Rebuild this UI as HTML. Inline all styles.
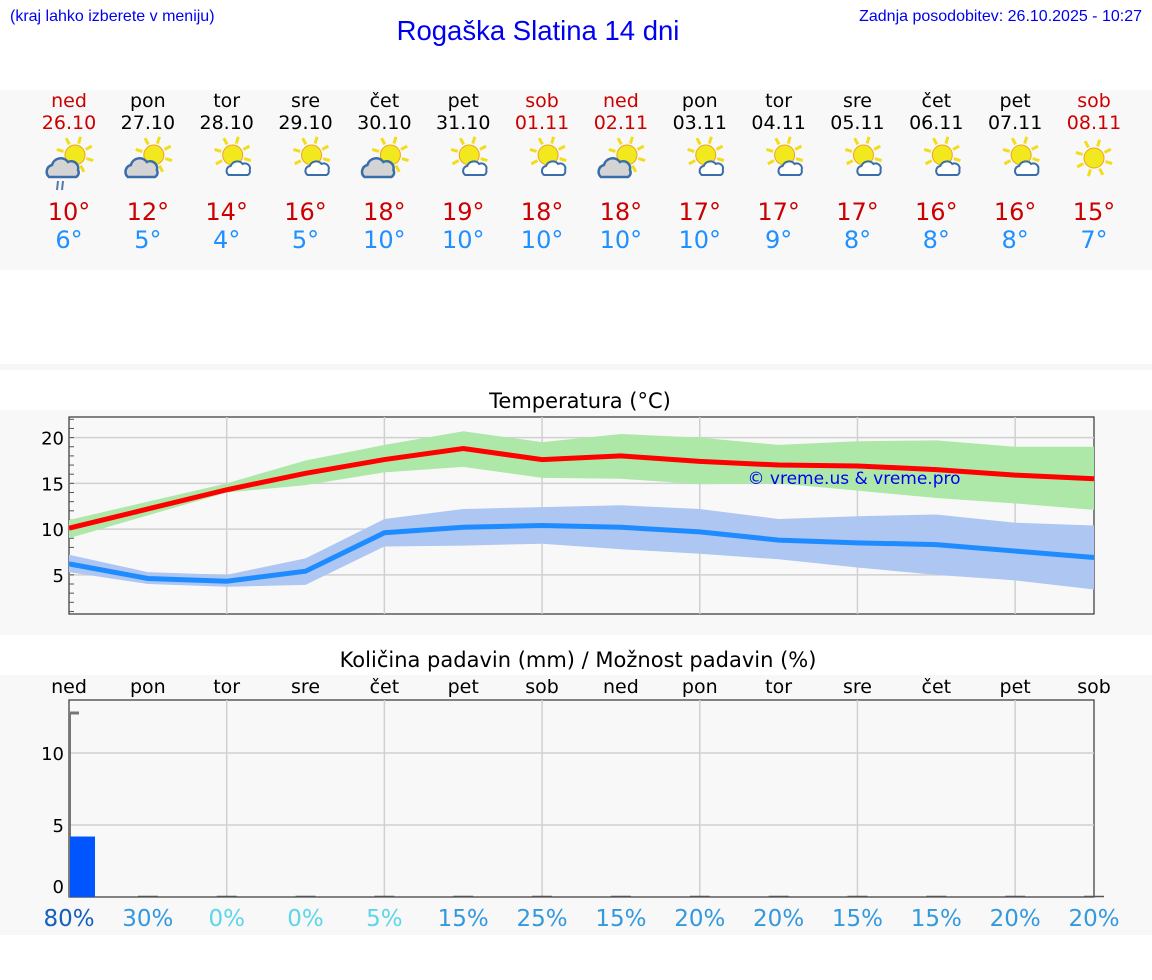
<!DOCTYPE html>
<html><head><meta charset="utf-8"><style>
body{margin:0;background:#fff;width:1152px;height:975px;overflow:hidden}
svg text{font-family:"DejaVu Sans",sans-serif}
</style></head><body>
<svg id="s" width="1152" height="975" xmlns="http://www.w3.org/2000/svg">
<rect x="0" y="90" width="1152" height="180" fill="#f8f8f8"/>
<rect x="0" y="364" width="1152" height="6" fill="#f6f6f6"/>
<rect x="0" y="410" width="1152" height="225" fill="#f8f8f8"/>
<rect x="0" y="675" width="1152" height="260" fill="#f8f8f8"/>
<text x="10" y="21" font-size="16" fill="#0000ee" style="font-family:'Liberation Sans',sans-serif">(kraj lahko izberete v meniju)</text>
<text x="538" y="40" font-size="27.5" fill="#0000ee" text-anchor="middle" style="font-family:'Liberation Sans',sans-serif">Rogaška Slatina 14 dni</text>
<text x="1142" y="21" font-size="16" fill="#0000ee" text-anchor="end" style="font-family:'Liberation Sans',sans-serif">Zadnja posodobitev: 26.10.2025 - 10:27</text>
<text x="580" y="408" font-size="21" text-anchor="middle">Temperatura (°C)</text>
<text x="578" y="667" font-size="21" text-anchor="middle">Količina padavin (mm) / Možnost padavin (%)</text>
<g id="g"></g>
</svg>
<script>
const days=["ned","pon","tor","sre","čet","pet","sob","ned","pon","tor","sre","čet","pet","sob"];
const dates=["26.10","27.10","28.10","29.10","30.10","31.10","01.11","02.11","03.11","04.11","05.11","06.11","07.11","08.11"];
const weekend=[1,0,0,0,0,0,1,1,0,0,0,0,0,1];
const icons=["rain","cloud","partly","partly","cloud","partly","partly","cloud","partly","partly","partly","partly","partly","sun"];
const hiLabels=[10,12,14,16,18,19,18,18,17,17,17,16,16,15];
const loLabels=[6,5,4,5,10,10,10,10,10,9,8,8,8,7];
const tMax=[10.1,12.2,14.3,16.1,17.6,18.8,17.6,18.0,17.4,17.0,16.9,16.5,15.9,15.5];
const tMaxHi=[11.0,13.0,15.0,17.5,19.2,20.7,19.5,20.4,20.0,19.2,19.6,19.7,19.0,19.0];
const tMaxLo=[9.0,11.5,14.0,14.8,16.2,16.8,15.6,15.5,14.9,15.0,14.2,13.4,12.8,12.1];
const tMin=[6.2,4.6,4.3,5.4,9.6,10.2,10.4,10.2,9.7,8.8,8.5,8.3,7.6,6.9];
const tMinHi=[7.2,5.3,5.0,6.8,11.1,12.2,12.4,12.6,12.2,11.1,11.4,11.6,10.7,10.4];
const tMinLo=[5.3,4.0,3.7,3.9,8.1,8.2,8.4,7.8,7.3,6.7,5.8,5.0,4.4,3.4];
const precip=[4.2,0,0,0,0,0,0,0,0,0,0,0,0,0];
const chance=[80,30,0,0,5,15,25,15,20,20,15,15,20,20];
const tempTicks=[5,10,15,20];
const precipTicks=[0,5,10];

const NS="http://www.w3.org/2000/svg";const g=document.getElementById('g');
function el(t,a,p){const e=document.createElementNS(NS,t);for(const k in a)e.setAttribute(k,a[k]);(p||g).appendChild(e);return e;}
const X0=69,X1=1094;
const xd=i=>X0+i*(X1-X0)/13;
const yT=v=>620.6-v*9.15;
const yP=v=>897-v*14.4;

days.forEach((d,i)=>{
  const c=weekend[i]?"#cc0000":"#000";
  let t=el('text',{x:xd(i),y:107,'font-size':19,'text-anchor':'middle',fill:c});t.textContent=d;
  
  
  t=el('text',{x:xd(i),y:129,'font-size':19,'text-anchor':'middle',fill:c});t.textContent=dates[i];
  
  
  t=el('text',{x:xd(i),y:220,'font-size':24,'text-anchor':'middle',fill:"#cc0000"});t.textContent=hiLabels[i]+"°";
  
  
  t=el('text',{x:xd(i),y:248,'font-size':24,'text-anchor':'middle',fill:"#1e90ff"});t.textContent=loLabels[i]+"°";
  
  
  const ic=el('g',{transform:`translate(${xd(i)},158)`});
  
  
  const k=icons[i];
  let sx=k=="sun"?0:6, sy=k=="sun"?0:-3;
  for(let a=0;a<8;a++){const an=a*Math.PI/4+0.3;el('line',{x1:sx+Math.cos(an)*12,y1:sy+Math.sin(an)*12,x2:sx+Math.cos(an)*19,y2:sy+Math.sin(an)*19,stroke:"#f2dd1a",'stroke-width':3},ic);}
  el('circle',{cx:sx,cy:sy,r:10,fill:"#f2e81e",stroke:"#f0a020",'stroke-width':1},ic);
  if(k=="cloud"||k=="rain"){
    el('path',{d:"M-20 19 a7 7 0 0 1 3-12 a9 9 0 0 1 16-3 a7 7 0 0 1 10 8 a5 5 0 0 1-2 7 z",fill:"#d4d4d4",stroke:"#3a6ea8",'stroke-width':2.5},ic);
    if(k=="rain"){el('line',{x1:-11,y1:23,x2:-12,y2:32,stroke:"#5577aa",'stroke-width':2},ic);el('line',{x1:-6,y1:23,x2:-7,y2:32,stroke:"#5577aa",'stroke-width':2},ic);}
  } else if(k=="partly"){
    el('path',{d:"M2 17 a5 5 0 0 1 2-9 a7 7 0 0 1 12-2 a5 5 0 0 1 7 6 a4 4 0 0 1-2 5 z",fill:"#fff",stroke:"#3a6ea8",'stroke-width':2},ic);
  }
});

el('rect',{x:X0,y:417,width:X1-X0,height:197,fill:"#f8f8f8",stroke:"#333",'stroke-width':1.2});
tempTicks.forEach(v=>{
  el('line',{x1:X0,x2:X1,y1:yT(v),y2:yT(v),stroke:"#d0d0d0",'stroke-width':1.5});
  const t=el('text',{x:64,y:yT(v)+7,'font-size':18,'text-anchor':'end'});t.textContent=v;
  
  
});
for(let v=1;v<=22;v++)el('line',{x1:X0,x2:X0+5,y1:yT(v),y2:yT(v),stroke:"#555",'stroke-width':1});
for(let i=2;i<13;i+=2)el('line',{x1:xd(i),x2:xd(i),y1:417,y2:614,stroke:"#d0d0d0",'stroke-width':1.5});
function band(hi,lo,fill,name){
  let d="M"+hi.map((v,i)=>xd(i)+" "+yT(v)).join(" L");
  d+=" L"+lo.map((v,i)=>xd(i)+" "+yT(v)).reverse().join(" L")+" Z";
  const p=el('path',{d,fill});
  
  
}
function line(a,col,name){
  const p=el('polyline',{points:a.map((v,i)=>xd(i)+","+yT(v)).join(" "),fill:"none",stroke:col,'stroke-width':5});
  
  
}
band(tMaxHi,tMaxLo,"#aee8a8","max-temp-range");
band(tMinHi,tMinLo,"#aec6f2","min-temp-range");
line(tMax,"#ff0000","max-temp-line");
line(tMin,"#1e8cff","min-temp-line");
let wm=el('text',{x:854,y:484,'font-size':17,'text-anchor':'middle',fill:"#0000ee"});wm.textContent="© vreme.us & vreme.pro";



days.forEach((d,i)=>{const t=el('text',{x:xd(i),y:693,'font-size':19,'text-anchor':'middle'});t.textContent=d;
  
  });
el('rect',{x:X0,y:700,width:X1-X0,height:197,fill:"#f8f8f8",stroke:"#333",'stroke-width':1.2});
precipTicks.forEach(v=>{
  if(v>0)el('line',{x1:X0,x2:X1,y1:yP(v),y2:yP(v),stroke:"#d0d0d0",'stroke-width':1.5});
  const t=el('text',{x:64,y:v==0?yP(v)-4:yP(v)+7,'font-size':18,'text-anchor':'end'});t.textContent=v;
  
  
});
for(let i=2;i<13;i+=2)el('line',{x1:xd(i),x2:xd(i),y1:700,y2:897,stroke:"#d0d0d0",'stroke-width':1.5});
el('line',{x1:70,x2:70,y1:713,y2:897,stroke:"#777",'stroke-width':2});
el('line',{x1:70,x2:79,y1:713,y2:713,stroke:"#777",'stroke-width':3});
const colFor=c=>c>=50?"#1560bd":(c<10?"#5cd6e8":"#3399dd");
precip.forEach((v,i)=>{
  const bx=i==0?70:xd(i)-10;
  if(v>0){const b=el('rect',{x:bx,y:yP(v),width:25,height:yP(0)-yP(v),fill:"#0055ff"});
    
    }
  else el('line',{x1:bx,x2:bx+20,y1:896.5,y2:896.5,stroke:"#555",'stroke-width':1.5});
  const t=el('text',{x:xd(i),y:926,'font-size':23,'text-anchor':'middle',fill:colFor(chance[i])});t.textContent=chance[i]+"%";
  
  
});
</script>
</body></html>
